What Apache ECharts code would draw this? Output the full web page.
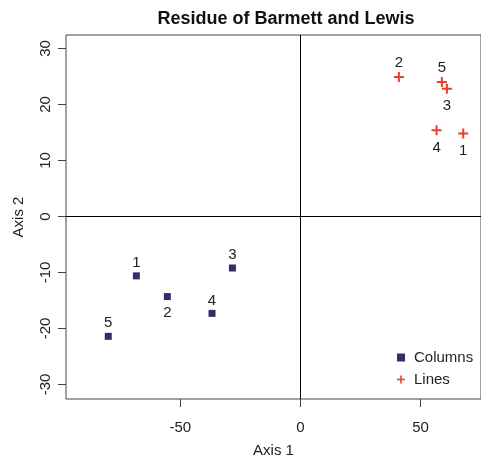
<!DOCTYPE html>
<html>
<head>
<meta charset="utf-8">
<script src="https://cdn.jsdelivr.net/npm/echarts@6/dist/echarts.min.js"></script>
<style>
  html, body { margin: 0; padding: 0; background: #fff; }
  #chart { width: 481px; height: 459px; }
</style>
</head>
<body>
<div id="chart"></div>
<script>
  // Columns (squares)
  const colX = [-68.3, -55.4, -28.3, -36.8, -80.0];
  const colY = [-10.6, -14.3, -9.2, -17.3, -21.4];
  const colNames = ['1', '2', '3', '4', '5'];
  const colSide = ['top', 'bottom', 'top', 'top', 'top'];

  // Lines (crosses)
  const lineX = [67.8, 41.0, 61.0, 56.7, 58.9];
  const lineY = [14.8, 24.9, 22.8, 15.4, 24.0];
  const lineNames = ['1', '2', '3', '4', '5'];
  const lineSide = ['bottom', 'top', 'bottom', 'bottom', 'top'];

  const xTicks = [-50, 0, 50];
  const yTicks = [-30, -20, -10, 0, 10, 20, 30];

  const FONT = 'Liberation Sans';
  const plusPath = 'path://M4,0H6V4H10V6H6V10H4V6H0V4H4Z';

  function toData(xs, ys, names, sides) {
    return xs.map((x, i) => ({
      value: [x, ys[i]],
      name: names[i],
      label: { position: sides[i], distance: sides[i] === 'top' ? 2 : 5 }
    }));
  }

  const chart = echarts.init(document.getElementById('chart'));
  chart.setOption({
    animation: false,
    graphic: [{
      type: 'text',
      x: 286, y: 19,
      style: {
        text: 'Residue of Barmett and Lewis',
        textAlign: 'center', textVerticalAlign: 'middle',
        font: 'bold 18px "Liberation Sans"', fill: '#111'
      }
    }],
    grid: {
      left: 66, top: 35, width: 415, height: 364,
      outerBoundsMode: 'none', containLabel: false,
      show: true, borderColor: '#444', borderWidth: 1, backgroundColor: 'transparent'
    },
    legend: {
      orient: 'vertical',
      left: 392, top: 345,
      itemWidth: 8, itemHeight: 8, itemGap: 7,
      textStyle: { fontFamily: FONT, fontSize: 15, color: '#222', padding: [0, 0, 0, 4] },
      data: [
        { name: 'Columns', icon: 'rect' },
        { name: 'Lines', icon: plusPath }
      ]
    },
    xAxis: {
      type: 'value', min: -97.6, max: 75.2,
      name: 'Axis 1', nameLocation: 'middle', nameGap: 44,
      nameTextStyle: { fontFamily: FONT, fontSize: 15, color: '#222' },
      axisLine: { show: false, onZero: false },
      axisTick: { show: true, length: 8, customValues: xTicks, lineStyle: { color: '#444' } },
      axisLabel: { customValues: xTicks, fontFamily: FONT, fontSize: 15, color: '#222', margin: 21 },
      splitLine: { show: false }
    },
    yAxis: {
      type: 'value', min: -32.59, max: 32.41,
      name: 'Axis 2', nameLocation: 'middle', nameGap: 40,
      nameTextStyle: { fontFamily: FONT, fontSize: 15, color: '#222' },
      axisLine: { show: false, onZero: false },
      axisTick: { show: true, length: 8, customValues: yTicks, lineStyle: { color: '#444' } },
      axisLabel: { customValues: yTicks, rotate: 90, fontFamily: FONT, fontSize: 15, color: '#222', margin: 13 },
      splitLine: { show: false }
    },
    series: [
      {
        name: 'Columns', type: 'scatter',
        symbol: 'rect', symbolSize: 7,
        itemStyle: { color: '#3a2a6c', opacity: 1 },
        label: {
          show: true, formatter: '{b}',
          fontFamily: FONT, fontSize: 15, color: '#222'
        },
        data: toData(colX, colY, colNames, colSide),
        markLine: {
          silent: true, symbol: ['none', 'none'],
          label: { show: false },
          lineStyle: { color: '#000', type: 'solid', width: 1 },
          data: [{ xAxis: 0 }, { yAxis: 0 }]
        }
      },
      {
        name: 'Lines', type: 'scatter',
        symbol: plusPath, symbolSize: 10,
        itemStyle: { color: '#e8402a', opacity: 1 },
        label: {
          show: true, formatter: '{b}',
          fontFamily: FONT, fontSize: 15, color: '#222'
        },
        data: toData(lineX, lineY, lineNames, lineSide)
      }
    ]
  });
</script>
</body>
</html>
